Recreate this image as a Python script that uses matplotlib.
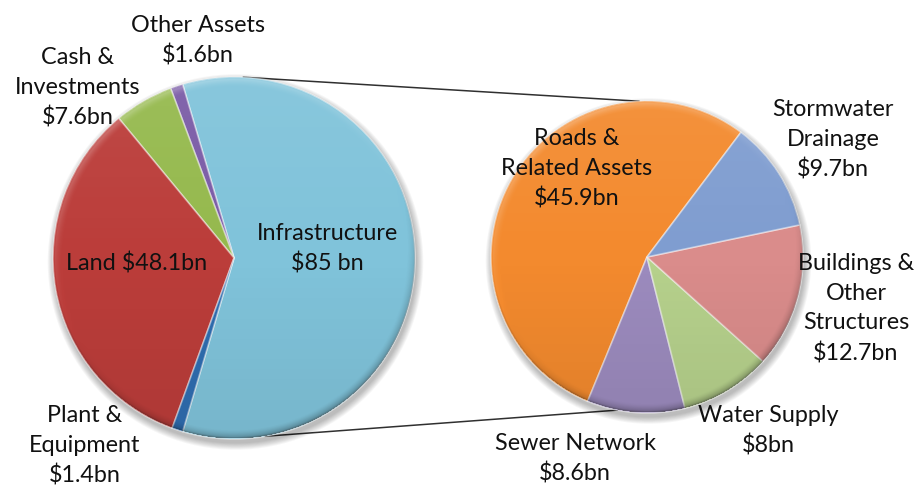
import numpy as np
import matplotlib
matplotlib.use("Agg")
import matplotlib.pyplot as plt
from matplotlib.patches import Circle

# ---------------- data ----------------
main_labels = ["Infrastructure\n$85 bn", "Other Assets\n$1.6bn",
               "Cash &\nInvestments\n$7.6bn", "Land $48.1bn",
               "Plant &\nEquipment\n$1.4bn"]
main_values = [85.0, 1.6, 7.6, 48.1, 1.4]

sub_labels = ["Roads &\nRelated Assets\n$45.9bn", "Sewer Network\n$8.6bn",
              "Water Supply\n$8bn", "Buildings &\nOther\nStructures\n$12.7bn",
              "Stormwater\nDrainage\n$9.7bn"]
sub_values = [45.9, 8.6, 8.0, 12.7, 9.7]

# ---------------- style / layout ----------------
main_colors = ["#80c3da", "#7a5ba6", "#95b94d", "#bb3d3a", "#2f6db0"]
sub_colors = ["#f38a2e", "#9c8bbe", "#b6d18c", "#da8c8b", "#7f9dd0"]

W, H = 921, 489
def Y(y):
    return H - y

main_center, main_r = (234, Y(259)), 181
sub_center, sub_r = (647, Y(258)), 156

# label positions (pixel coords, top-origin)
main_label_pos = [(327, 249), (198, 41), (78, 88), (137, 264), (85, 446)]
sub_label_pos = [(577, 169), (575, 459), (768, 431), (856, 309), (833, 140)]

plt.rcParams['font.family'] = ['Lato', 'DejaVu Sans']
FS = 16.8
LS = 1.5

fig = plt.figure(figsize=(W / 100, H / 100), dpi=100)
ax = fig.add_axes([0, 0, 1, 1])


def shadow(center, r):
    cx, cy = center
    for i in range(8):
        ax.add_patch(Circle((cx + 1.5, cy - 4), r + 0.5 + i * 0.9,
                            facecolor='black', edgecolor='none',
                            alpha=0.035, zorder=1))


def shade(center, r):
    cx, cy = center
    n = int(2 * r) + 2
    xs = np.linspace(-r, r, n)
    ys = np.linspace(r, -r, n)
    X, Yg = np.meshgrid(xs, ys)
    rho = np.sqrt(X ** 2 + Yg ** 2)
    s = 0.07 * (Yg / r)  # lighter top, darker bottom
    d = r - rho
    w = 9.0
    f = np.clip(1 - d / w, 0, 1)
    nx = X / np.maximum(rho, 1e-6)
    ny = Yg / np.maximum(rho, 1e-6)
    L = np.array([-0.45, 0.9])
    L = L / np.linalg.norm(L)
    dot = nx * L[0] + ny * L[1]
    s = s + f ** 1.5 * 0.30 * dot
    edge = np.clip(1 - d / 2.0, 0, 1)
    s = s - edge * 0.15
    rgba = np.zeros((n, n, 4))
    pos = s > 0
    rgba[pos, :3] = 1.0
    rgba[..., 3] = np.abs(s)
    rgba[rho > r, 3] = 0
    im = ax.imshow(rgba, extent=(cx - r, cx + r, cy - r, cy + r),
                   interpolation='bilinear', zorder=3, origin='upper')
    clip = Circle(center, r, transform=ax.transData)
    im.set_clip_path(clip)


shadow(main_center, main_r)
shadow(sub_center, sub_r)

total_main = sum(main_values)
main_start = -main_values[0] / total_main * 180.0
ax.pie(main_values, colors=main_colors, startangle=main_start,
       center=main_center, radius=main_r, counterclock=True,
       wedgeprops=dict(linewidth=1.2, edgecolor=(1, 1, 1, 0.45), zorder=2))
ax.pie(sub_values, colors=sub_colors, startangle=53,
       center=sub_center, radius=sub_r, counterclock=True,
       wedgeprops=dict(linewidth=1.2, edgecolor=(1, 1, 1, 0.45), zorder=2))

shade(main_center, main_r)
shade(sub_center, sub_r)


def on_circle(center, r, ang):
    a = np.deg2rad(ang)
    return center[0] + r * np.cos(a), center[1] + r * np.sin(a)

p1 = on_circle(main_center, main_r, 87)
p2 = on_circle(sub_center, sub_r, 93)
p3 = on_circle(main_center, main_r, -80)
p4 = on_circle(sub_center, sub_r, -101)
ax.plot([p1[0], p2[0]], [p1[1], p2[1]], color='#303030', lw=1.1, zorder=0.5)
ax.plot([p3[0], p4[0]], [p3[1], p4[1]], color='#303030', lw=1.1, zorder=0.5)

for lab, (x, y) in zip(main_labels, main_label_pos):
    ax.text(x, Y(y), lab, ha='center', va='center', fontsize=FS,
            color='#111111', linespacing=LS, zorder=10)
for lab, (x, y) in zip(sub_labels, sub_label_pos):
    ax.text(x, Y(y), lab, ha='center', va='center', fontsize=FS,
            color='#111111', linespacing=LS, zorder=10)

ax.set_xlim(0, W)
ax.set_ylim(0, H)
ax.set_aspect('auto')
ax.axis('off')
fig.savefig('out.png', dpi=100, facecolor='white')
